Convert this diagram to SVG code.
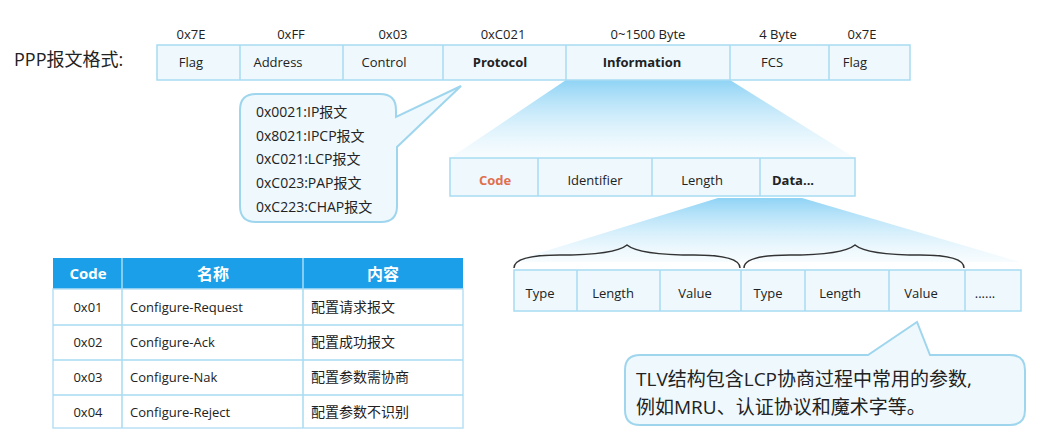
<svg xmlns="http://www.w3.org/2000/svg" width="1042" height="447" viewBox="0 0 1042 447">
<style>
text{font-family:"Open Sans","Noto Sans CJK SC",sans-serif;fill:#222;font-size:13px;text-anchor:middle}
.s{text-anchor:start}
.cell{fill:#eef8fd;stroke:#a8dcf2;stroke-width:1.5}
.b{font-weight:bold}
.call{fill:#eef8fd;stroke:#9fd6ee;stroke-width:2}
.grid{stroke:#a8dcf2;stroke-width:1.5;fill:none}
</style>
<defs>
<linearGradient id="g" x1="0" y1="0" x2="0" y2="1"><stop offset="0" stop-color="#8fd3f5"/><stop offset="1" stop-color="#e6f6fd" stop-opacity="0.3"/></linearGradient>
</defs>
<rect width="1042" height="447" fill="#fff"/>
<text x="14" y="66" class="s" style="font-size:18px">PPP报文格式:</text>
<g id="connectors">
<polygon points="566,80 730,80 855,158 450,158" fill="url(#g)"/>
<polygon points="718,198 802,198 1020,262 510,262" fill="url(#g)"/>
<path d="M514,268 Q514,255 560,255 Q615,255 627,245 Q639,255 694,255 Q740,255 740,268 M744,268 Q744,255 790,255 Q843,255 855,245 Q867,255 920,255 Q964,255 964,268" fill="none" stroke="#333" stroke-width="1.5"/>
</g>
<g id="ppp">
<rect class="cell" x="157" y="45" width="753" height="35"/>
<path class="grid" d="M240,45V80M343,45V80M443,45V80M566,45V80M730,45V80M829,45V80"/>
<text x="191" y="39">0x7E</text><text x="291" y="39">0xFF</text><text x="393" y="39">0x03</text><text x="503" y="39">0xC021</text><text x="648" y="39">0~1500 Byte</text><text x="778" y="39">4 Byte</text><text x="862" y="39">0x7E</text>
<text x="191" y="67">Flag</text><text x="278" y="67">Address</text><text x="384" y="67">Control</text><text x="500" y="67" class="b">Protocol</text><text x="642" y="67" class="b">Information</text><text x="772" y="67">FCS</text><text x="855" y="67">Flag</text>
</g>
<g id="callout1">
<path class="call" d="M256,94H380Q396,94 396,110V117L461,86L397,147V206Q397,222 381,222H256Q240,222 240,206V110Q240,94 256,94Z"/>
<text x="256" y="117" class="s" style="font-size:14px">0x0021:IP报文</text><text x="256" y="141" class="s" style="font-size:14px">0x8021:IPCP报文</text><text x="256" y="164" class="s" style="font-size:14px">0xC021:LCP报文</text><text x="256" y="188" class="s" style="font-size:14px">0xC023:PAP报文</text><text x="256" y="212" class="s" style="font-size:14px">0xC223:CHAP报文</text>
</g>
<g id="lcp">
<rect class="cell" x="450" y="158" width="405" height="38"/>
<path class="grid" d="M538,158V196M652,158V196M760,158V196"/>
<text x="495" y="185" class="b" style="fill:#e0704f">Code</text><text x="595" y="185">Identifier</text><text x="702" y="185">Length</text><text x="793" y="185" class="b">Data...</text>
</g>
<g id="tlv">
<rect class="cell" x="514" y="270" width="507" height="41"/>
<path class="grid" d="M577,270V311M660,270V311M741,270V311M805,270V311M889,270V311M965,270V311"/>
<text x="540" y="298">Type</text><text x="613" y="298">Length</text><text x="695" y="298">Value</text><text x="768" y="298">Type</text><text x="840" y="298">Length</text><text x="921" y="298">Value</text><text x="985" y="298">......</text>
</g>
<g id="table">
<rect x="53" y="258" width="410" height="31" fill="#1a9fe8"/>
<rect x="53" y="289" width="410" height="139" fill="#fff" stroke="#b8e0f4" stroke-width="1.5"/>
<path class="grid" d="M53,325H463M53,360H463M53,395H463M122,258V428M303,258V428"/>
<text x="88" y="279" class="b" style="fill:#fff;font-size:15px">Code</text><text x="213" y="280" class="b" style="fill:#fff;font-size:16px">名称</text><text x="383" y="280" class="b" style="fill:#fff;font-size:16px">内容</text>
<text x="88" y="312">0x01</text><text x="88" y="347">0x02</text><text x="88" y="382">0x03</text><text x="88" y="417">0x04</text>
<text x="130" y="312" class="s">Configure-Request</text><text x="130" y="347" class="s">Configure-Ack</text><text x="130" y="382" class="s">Configure-Nak</text><text x="130" y="417" class="s">Configure-Reject</text>
<text x="311" y="312" class="s" style="font-size:14px">配置请求报文</text><text x="311" y="347" class="s" style="font-size:14px">配置成功报文</text><text x="311" y="382" class="s" style="font-size:14px">配置参数需协商</text><text x="311" y="417" class="s" style="font-size:14px">配置参数不识别</text>
</g>
<g id="callout2">
<path class="call" d="M640,355H868L917,322L930,355H1010Q1025,355 1025,370V410Q1025,425 1010,425H640Q625,425 625,410V370Q625,355 640,355Z"/>
<text x="636" y="386" class="s" style="font-size:19px">TLV结构包含LCP协商过程中常用的参数,</text>
<text x="636" y="414" class="s" style="font-size:19px">例如MRU、认证协议和魔术字等。</text>
</g>
</svg>
